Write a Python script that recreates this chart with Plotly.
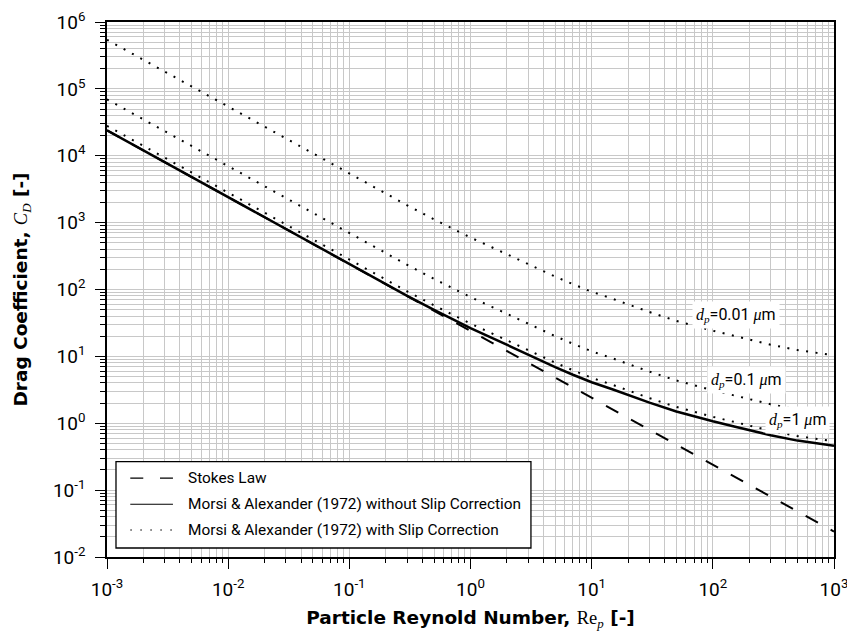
import plotly.graph_objects as go

# ---------------- data ----------------
re_p = [0.001, 0.01, 0.1, 0.15, 0.2, 0.3, 0.5, 0.7, 1, 1.5, 2, 3, 5, 7, 10,
        15, 20, 30, 50, 70, 100, 150, 200, 300, 500, 700, 1000]

stokes_re = [0.001, 1000]
stokes_cd = [24000, 0.024]

cd_no_slip = [24000, 2400, 240.0, 159.2, 119.6, 80.46, 49.51, 36.35, 26.51,
              18.94, 14.83, 10.51, 6.90, 5.31, 4.10, 3.198, 2.650, 2.037,
              1.500, 1.257, 1.070, 0.8965, 0.7866, 0.6613, 0.5500, 0.4992,
              0.4599]

cd_slip_1um = [28010, 2801, 280.1, 185.8, 139.6, 93.90, 57.78, 42.42, 30.94,
               22.10, 17.31, 12.27, 8.05, 6.20, 4.785, 3.732, 3.093, 2.377,
               1.751, 1.467, 1.249, 1.046, 0.918, 0.7717, 0.6419, 0.5826,
               0.5367]

cd_slip_01um = [69720, 6972, 697.2, 462.5, 347.4, 233.7, 143.8, 105.6, 77.01,
                55.02, 43.08, 30.53, 20.04, 15.43, 11.91, 9.290, 7.698, 5.917,
                4.358, 3.652, 3.108, 2.604, 2.285, 1.921, 1.598, 1.450, 1.336]

cd_slip_001um = [542400, 54240, 5424, 3598, 2703, 1818, 1119, 821.5, 599.1,
                 428.0, 335.2, 237.5, 155.9, 120.0, 92.66, 72.27, 59.89, 46.04,
                 33.90, 28.41, 24.18, 20.26, 17.78, 14.95, 12.43, 11.28, 10.39]

x_tick_vals = [1e-3, 1e-2, 1e-1, 1e0, 1e1, 1e2, 1e3]
x_tick_text = ["10<sup>-3</sup>", "10<sup>-2</sup>", "10<sup>-1</sup>",
               "10<sup>0</sup>", "10<sup>1</sup>", "10<sup>2</sup>",
               "10<sup>3</sup>"]
y_tick_vals = [1e-2, 1e-1, 1e0, 1e1, 1e2, 1e3, 1e4, 1e5, 1e6]
y_tick_text = ["10<sup>-2</sup>", "10<sup>-1</sup>", "10<sup>0</sup>",
               "10<sup>1</sup>", "10<sup>2</sup>", "10<sup>3</sup>",
               "10<sup>4</sup>", "10<sup>5</sup>", "10<sup>6</sup>"]

legend_names = ["Stokes Law",
                "Morsi &amp; Alexander (1972) without Slip Correction",
                "Morsi &amp; Alexander (1972) with Slip Correction"]

SERIF = "'Liberation Serif'"
def mi(s):
    return f"<span style=\"font-family:{SERIF};font-style:italic\">{s}</span>"

dp_labels = [mi("d") + "<sub>" + mi("p") + "</sub>=0.01 " + mi("μ") + "m",
             mi("d") + "<sub>" + mi("p") + "</sub>=0.1 " + mi("μ") + "m",
             mi("d") + "<sub>" + mi("p") + "</sub>=1 " + mi("μ") + "m"]

# ---------------- styles / layout geometry ----------------
SANS = "Roboto"
TITLE_FONT = "DejaVu Sans"
GRID = "#c8c8c8"
DOT = "2px,7.5px"
DASH = "14px,14.5px"

W, H = 847, 638
PL, PR, PT, PB = 106.7, 834.3, 21.5, 557.3   # plot area in pixels


def px(xp):
    return (xp - PL) / (PR - PL)


def py(yp):
    return (PB - yp) / (PB - PT)


minor_x = [m * 10 ** e for e in range(-3, 3) for m in range(2, 10)]
minor_y = [m * 10 ** e for e in range(-2, 6) for m in range(2, 10)]

fig = go.Figure()

fig.add_trace(go.Scatter(x=stokes_re, y=stokes_cd, mode="lines",
                         name=legend_names[0],
                         line=dict(color="black", width=2, dash=DASH),
                         showlegend=False))
for cd in (cd_slip_001um, cd_slip_01um, cd_slip_1um):
    fig.add_trace(go.Scatter(x=re_p, y=cd, mode="lines", name=legend_names[2],
                             line=dict(color="black", width=2, dash=DOT),
                             showlegend=False))
fig.add_trace(go.Scatter(x=re_p, y=cd_no_slip, mode="lines",
                         name=legend_names[1],
                         line=dict(color="black", width=2.5),
                         showlegend=False))

axis_common = dict(
    type="log", showline=True, linecolor="black", linewidth=1.5, mirror=True,
    ticks="outside", tickcolor="black", tickwidth=1.2, ticklen=10,
    showgrid=True, gridcolor=GRID, gridwidth=1, zeroline=False,
    automargin=False,
    tickfont=dict(family=SANS, size=19, color="black"),
)

fig.update_xaxes(
    **axis_common, range=[-3, 3], tickvals=x_tick_vals, ticktext=x_tick_text,
    minor=dict(tickvals=minor_x, ticks="outside", ticklen=4, tickcolor="black",
               tickwidth=1, showgrid=True, gridcolor=GRID, gridwidth=1),
    ticklabelstandoff=4, ticklabeloverflow="allow",
    title=dict(text="<b>Particle Reynold Number, </b><span style=\"font-family:'Liberation Serif'\">Re<sub><i>p</i></sub></span><b> [-]</b>",
               font=dict(family=TITLE_FONT, size=18.5, color="black"),
               standoff=12),
)
fig.update_yaxes(
    **axis_common, range=[-2, 6], tickvals=y_tick_vals, ticktext=y_tick_text,
    minor=dict(tickvals=minor_y, ticks="outside", ticklen=5, tickcolor="black",
               tickwidth=1, showgrid=True, gridcolor=GRID, gridwidth=1),
    ticklabelstandoff=6,
    title=dict(text="<b>Drag Coefficient, </b><span style=\"font-family:'Liberation Serif';font-style:italic\">C<sub>D</sub></span><b> [-]</b>",
               font=dict(family=TITLE_FONT, size=18.5, color="black"),
               standoff=20),
)

for txt, lx, ly in zip(dp_labels, [2.188, 2.276, 2.702], [1.619, 0.649, 0.052]):
    fig.add_annotation(x=lx, y=ly, xref="x", yref="y", text=txt,
                       showarrow=False, bgcolor="white", borderpad=3,
                       font=dict(family=SANS, size=16, color="black"))

# ---------------- legend box (drawn in paper coordinates) ----------------
fig.add_shape(type="rect", xref="paper", yref="paper",
              x0=px(115.7), x1=px(531), y0=py(548.3), y1=py(461.7),
              line=dict(color="black", width=1.3), fillcolor="white",
              layer="above")
row_y = [478.3, 504.5, 530.2]
sample_dash = ["13px,16.7px", "solid", "1.6px,8.4px"]
for name, ry, dash in zip(legend_names, row_y, sample_dash):
    fig.add_shape(type="line", xref="paper", yref="paper",
                  x0=px(130), x1=px(172.7), y0=py(ry), y1=py(ry),
                  line=dict(color="black", width=1.1, dash=dash),
                  layer="above")
    fig.add_annotation(x=px(186), y=py(ry), xref="paper", yref="paper",
                       text=name, showarrow=False, xanchor="left",
                       yanchor="middle",
                       font=dict(family=SANS, size=15.4, color="black"))

fig.update_layout(
    width=W, height=H, autosize=False,
    margin=dict(l=PL, r=W - PR, t=PT, b=H - PB, autoexpand=False),
    paper_bgcolor="white", plot_bgcolor="white",
    font=dict(family=SANS, color="black"),
    showlegend=False,
)

fig.write_html("out.html")
